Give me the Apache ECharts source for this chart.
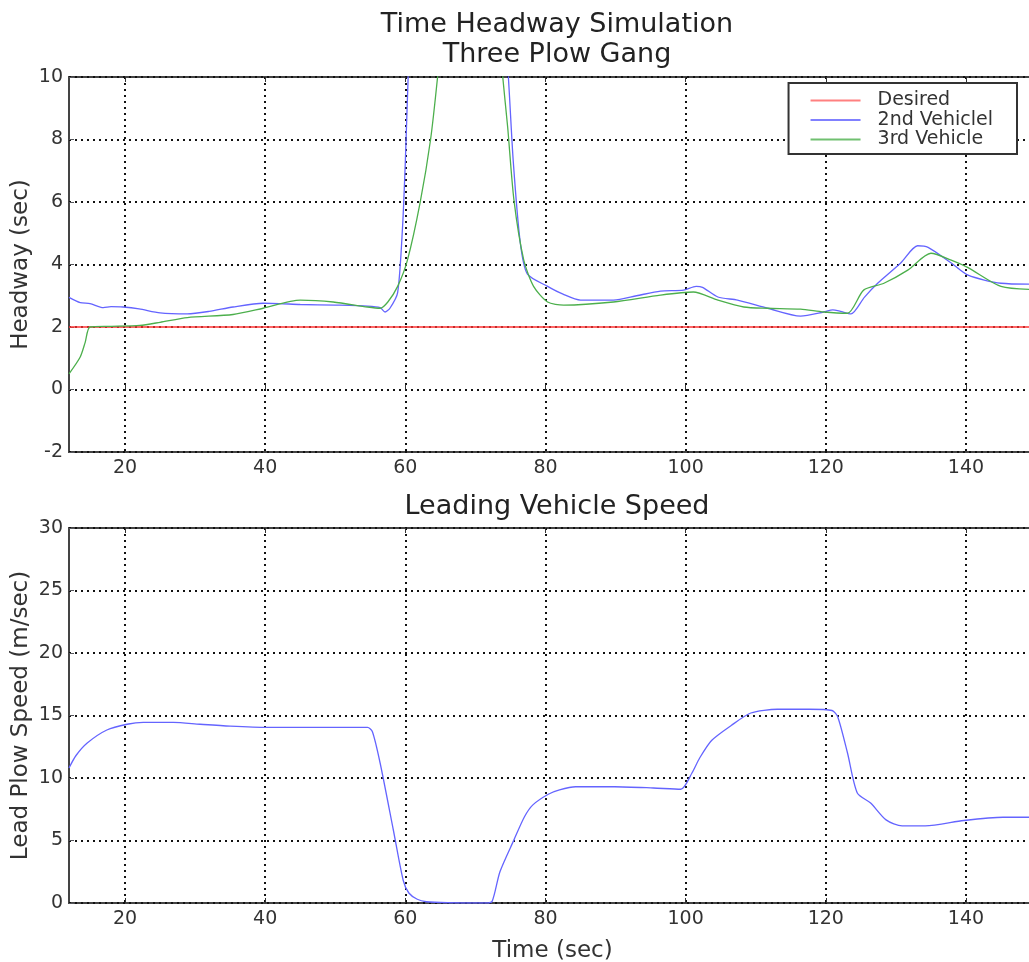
<!DOCTYPE html>
<html>
<head>
<meta charset="utf-8">
<script src="https://cdn.jsdelivr.net/npm/echarts@6/dist/echarts.min.js"></script>
<style>
html, body { margin: 0; padding: 0; background: #fff; }
#chart { width: 1029px; height: 962px; }
</style>
</head>
<body>
<div id="chart"></div>
<script>
// tick labels
var xTicks = [20, 40, 60, 80, 100, 120, 140];

// desired headway
var tDesired = [12, 150];
var hDesired = [2, 2];

// 2nd vehicle headway
var t2nd = [12, 13.6, 15, 16.9, 18, 19.7, 22, 25, 28.9, 32, 35.4, 39.7, 42, 45, 50, 54.6, 56.4, 57.1, 57.8, 58.9, 59.6, 60, 60.4, 60.8,
	67, 74, 74.7, 75.4, 76.4, 77.4, 80.3, 82.5, 85, 89.7, 93, 96.4, 99.7, 101.5, 102.4, 104.6, 107.4, 111.7, 116.4, 119.7, 121,
	122.1, 123.6, 125.5, 127.4, 130.7, 133.1, 134.6, 137.9, 140.3, 145, 150];
var h2nd = [2.95, 2.78, 2.75, 2.62, 2.65, 2.64, 2.58, 2.45, 2.42, 2.5, 2.64, 2.76, 2.75, 2.72, 2.7, 2.67, 2.62, 2.48, 2.6, 3.1, 5.2, 7.3, 10, 12,
	14, 12, 10, 7.3, 4.7, 3.7, 3.3, 3.05, 2.86, 2.86, 3.0, 3.15, 3.18, 3.3, 3.27, 2.96, 2.86, 2.6, 2.35, 2.48, 2.55,
	2.5, 2.42, 2.95, 3.4, 4.05, 4.6, 4.55, 4.05, 3.66, 3.4, 3.37];

// 3rd vehicle headway
var t3rd = [12, 13.6, 14.3, 15, 17.9, 22.1, 25, 28.9, 35.4, 39.7, 45, 49.7, 54.6, 56.4, 57.5, 58.9, 60.3, 62.1, 63.6, 64.6, 65.2,
	73.4, 73.9, 74.6, 75.5, 76.9, 78.3, 80.3, 82.6, 89.7, 96.4, 101.1, 104.6, 108.3, 111.7, 116.4, 119.7, 123.1, 125.4, 128.3,
	131.7, 135, 137.9, 140.3, 145, 150];
var h3rd = [0.5, 1.04, 1.5, 2.0, 2.02, 2.05, 2.15, 2.3, 2.4, 2.6, 2.86, 2.8, 2.64, 2.6, 2.8, 3.3, 4.14, 5.97, 8, 10, 11.5,
	11.5, 10, 8.4, 6.06, 4.14, 3.3, 2.8, 2.7, 2.8, 3.02, 3.12, 2.86, 2.64, 2.6, 2.57, 2.48, 2.44, 3.18, 3.4,
	3.82, 4.36, 4.14, 3.9, 3.3, 3.2];

// lead plow speed
var tLead = [12, 13, 14.6, 17.4, 20.3, 22.6, 26.9, 30.7, 35, 40.3, 54.6, 55.3, 56.4, 58.3, 59.7, 60.5, 61.7, 63, 66, 71.6,
	72.4, 73.5, 75.5, 77, 78.2, 80.4, 82, 84.3, 89.9, 95.4, 99.3, 100.9, 102, 103.7, 106.5, 109.3, 113.1, 117.6, 120.9,
	121.7, 123.1, 124.5, 126.4, 128.6, 130.9, 134.2, 139.7, 145.3, 150];
var vLead = [10.8, 11.8, 12.8, 13.84, 14.3, 14.45, 14.45, 14.3, 14.15, 14.05, 14.05, 13.7, 11.2, 5.8, 1.8, 0.8, 0.3, 0.1, 0.02, 0,
	0.15, 2.5, 5.05, 6.9, 7.85, 8.7, 9.05, 9.3, 9.3, 9.2, 9.1, 10.4, 11.6, 13.0, 14.2, 15.2, 15.5, 15.5, 15.4,
	14.9, 12.0, 8.8, 8.0, 6.65, 6.17, 6.17, 6.6, 6.86, 6.86];

function pairs(xs, ys) {
	var out = [];
	for (var i = 0; i < xs.length; i++) out.push([xs[i], ys[i]]);
	return out;
}

var font = 'DejaVu Sans';
var gridLine = { show: true, lineStyle: { color: '#111', width: 2, type: [2, 4] } };

function xAxisFor(gi, withName) {
	return {
		type: 'value', gridIndex: gi, min: 12, max: 150,
		axisLine: { show: false },
		axisTick: { show: true, inside: true, length: 5, customValues: xTicks, lineStyle: { color: '#333' } },
		axisLabel: { customValues: xTicks, fontFamily: font, fontSize: 19, color: '#333', margin: 7 },
		splitLine: gridLine,
		name: withName ? 'Time (sec)' : '',
		nameLocation: 'middle', nameGap: 37,
		nameTextStyle: { fontFamily: font, fontSize: 23, color: '#333' }
	};
}
function topAxisFor(gi) {
	return {
		type: 'value', gridIndex: gi, position: 'top', min: 12, max: 150,
		axisLine: { show: false },
		axisTick: { show: true, inside: true, length: 5, customValues: xTicks, lineStyle: { color: '#333' } },
		axisLabel: { show: false },
		splitLine: { show: false }
	};
}

var chart = echarts.init(document.getElementById('chart'));
var option = {
	animation: false,
	title: [{
		text: 'Time Headway Simulation\nThree Plow Gang',
		left: 552, top: 5, textAlign: 'center',
		textStyle: { fontFamily: font, fontSize: 27, fontWeight: 'normal', color: '#222', lineHeight: 30 }
	}, {
		text: 'Leading Vehicle Speed',
		left: 552, top: 487, textAlign: 'center',
		textStyle: { fontFamily: font, fontSize: 27, fontWeight: 'normal', color: '#222', lineHeight: 30 }
	}],
	legend: {
		data: ['Desired', '2nd Vehiclel', '3rd Vehicle'],
		orient: 'vertical',
		right: 12, top: 83,
		icon: 'rect',
		itemWidth: 50, itemHeight: 2, itemGap: 0.5,
		padding: [8, 24, 5, 22],
		borderColor: '#333', borderWidth: 2, borderRadius: 0,
		backgroundColor: '#fff',
		textStyle: { fontFamily: font, fontSize: 19, color: '#333', padding: [0, 0, 0, 12], lineHeight: 19 }
	},
	grid: [
		{ left: 69, right: -7, top: 77, height: 375, outerBoundsMode: 'none', containLabel: false,
			show: true, borderColor: '#444', borderWidth: 2, backgroundColor: 'transparent' },
		{ left: 69, right: -7, top: 528, height: 375, outerBoundsMode: 'none', containLabel: false,
			show: true, borderColor: '#444', borderWidth: 2, backgroundColor: 'transparent' }
	],
	xAxis: [xAxisFor(0, false), xAxisFor(1, true), topAxisFor(0), topAxisFor(1)],
	yAxis: [{
		type: 'value', gridIndex: 0, min: -2, max: 10, interval: 2,
		axisLine: { show: false },
		axisTick: { show: true, inside: true, length: 5 },
		axisLabel: { fontFamily: font, fontSize: 19, color: '#333', margin: 6 },
		splitLine: gridLine,
		name: 'Headway (sec)', nameLocation: 'middle', nameGap: 36, nameMoveOverlap: false,
		nameTextStyle: { fontFamily: font, fontSize: 23, color: '#333' }
	}, {
		type: 'value', gridIndex: 1, min: 0, max: 30, interval: 5,
		axisLine: { show: false },
		axisTick: { show: true, inside: true, length: 5 },
		axisLabel: { fontFamily: font, fontSize: 19, color: '#333', margin: 6 },
		splitLine: gridLine,
		name: 'Lead Plow Speed (m/sec)', nameLocation: 'middle', nameGap: 36, nameMoveOverlap: false,
		nameTextStyle: { fontFamily: font, fontSize: 23, color: '#333' }
	}],
	series: [{
		name: 'Desired', type: 'line', xAxisIndex: 0, yAxisIndex: 0,
		data: pairs(tDesired, hDesired), symbol: 'none',
		lineStyle: { color: '#ff3333', width: 1.5 }, itemStyle: { color: '#ff8080' }
	}, {
		name: '2nd Vehiclel', type: 'line', xAxisIndex: 0, yAxisIndex: 0,
		data: pairs(t2nd, h2nd), symbol: 'none', smooth: 0.25,
		lineStyle: { color: '#6464ff', width: 1.3 }, itemStyle: { color: '#8080ff' }
	}, {
		name: '3rd Vehicle', type: 'line', xAxisIndex: 0, yAxisIndex: 0,
		data: pairs(t3rd, h3rd), symbol: 'none', smooth: 0.25,
		lineStyle: { color: '#4caf4c', width: 1.3 }, itemStyle: { color: '#70c070' }
	}, {
		name: 'Lead Speed', type: 'line', xAxisIndex: 1, yAxisIndex: 1,
		data: pairs(tLead, vLead), symbol: 'none', smooth: 0.25,
		lineStyle: { color: '#6464ff', width: 1.3 }
	}]
};
chart.setOption(option);
</script>
</body>
</html>
